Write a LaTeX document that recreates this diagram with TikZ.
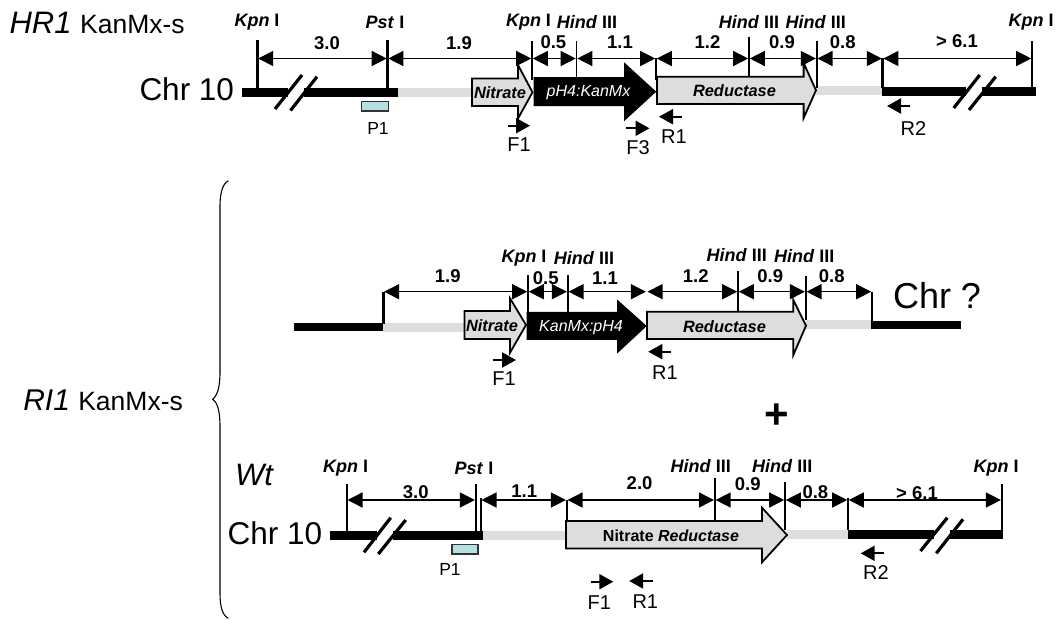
\documentclass[tikz,border=0pt]{standalone}
\usepackage{fontspec}
\setmainfont{Liberation Sans}
\usetikzlibrary{arrows.meta}
\definecolor{geneGrey}{HTML}{DDDDDD}
\definecolor{probeBlue}{HTML}{B7DEE0}
\newcommand{\fs}[1]{\fontsize{#1}{#1}\selectfont}
\tikzset{
  x=1pt,y=-1pt,
  txt/.style={inner sep=0pt,outer sep=0pt,anchor=center},
  site/.style={txt,font=\fs{18}\bfseries},
  size/.style={txt,font=\fs{18.5}\bfseries},
  primerlab/.style={txt,font=\fs{20}},
  probelab/.style={txt,font=\fs{17.5}},
  genelab/.style={txt,font=\fs{16.4}\bfseries\itshape},
  title/.style={txt,anchor=base west},
  chr/.style={txt,anchor=west,font=\fs{31.5}},
  dim/.style={line width=1.4pt,{Triangle[length=15pt,width=15pt]}-{Triangle[length=15pt,width=15pt]},shorten <=0.8pt,shorten >=0.8pt},
  tickline/.style={line width=1.8pt},
  heavytick/.style={line width=2.4pt},
  primer/.style={line width=2pt,-{Triangle[length=14pt,width=15pt]}},
  chrom/.style={line width=9pt},
  spacer/.style={line width=9pt,geneGrey},
  slash/.style={line width=3.2pt},
  gene/.style={draw=black,line width=1.8pt,fill=geneGrey,miter limit=10},
  darkgene/.style={draw=black,line width=1pt,fill=black},
  probe/.style={draw=black!80,line width=1.8pt,fill=probeBlue},
}
% name, x, top, dim y, bottom
\newcommand{\tick}[5]{\coordinate (#1-t) at (#2,#3);\coordinate (#1) at (#2,#4);\coordinate (#1-b) at (#2,#5);\draw[tickline] (#1-t) -- (#1-b);}
\newcommand{\htick}[5]{\coordinate (#1-t) at (#2,#3);\coordinate (#1) at (#2,#4);\coordinate (#1-b) at (#2,#5);\draw[heavytick] (#1-t) -- (#1-b);}
% style, left, bodytop, bodybot, base, headtop, headbot, tip
\newcommand{\genearrow}[8]{\draw[#1] (#2,#3) -- (#5,#3) -- (#5,#6) -- (#8) -- (#5,#7) -- (#5,#4) -- (#2,#4) -- cycle;}
\newcommand{\Kpn}{\textit{Kpn} I}
\newcommand{\Pst}{\textit{Pst} I}
\newcommand{\Hind}{\textit{Hind} III}
\begin{document}
\begin{tikzpicture}
\useasboundingbox (0,0) rectangle (1058,619);

% ---------- Row 1 ----------
\node[title] (hrt) at (9.5,33.5) {\fs{31}\textit{HR1} \fs{26.5}KanMx-s};
\node[chr] (chrA) at (139.5,89.5) {Chr 10};
\draw[chrom] (242,92.3) -- (288,92.3);
\draw[chrom] (304,92.3) -- (398,92.3);
\draw[spacer] (398,92.3) -- (472,92.3);
\draw[spacer] (816,90.5) -- (883,90.5);
\draw[chrom] (881.8,91) -- (966,91);
\draw[chrom] (982,91) -- (1035.6,91);
\draw[slash] (275,109) -- (302,75);
\draw[slash] (290.5,110.5) -- (317,76.7);
\draw[slash] (953.7,108) -- (979.7,75);
\draw[slash] (969,110) -- (995.7,76.7);
\draw[probe] (361.5,101.5) rectangle (388.5,110.7);
\coordinate (tipA1) at (532.5,92.3);
\coordinate (tipA2) at (655.5,91.7);
\coordinate (tipA3) at (816,90.3);
\genearrow{gene}{472}{78.5}{106}{518}{65}{118.5}{tipA1}
\genearrow{darkgene}{534}{77.5}{105.5}{624.6}{63.5}{120}{tipA2}
\genearrow{gene}{657}{76.7}{104}{803.6}{63}{118}{tipA3}
\htick{a1}{257.4}{40}{58.5}{90}
\htick{a2}{387.5}{40}{58.5}{89}
\tick{a3}{532}{41}{58.5}{80}
\tick{a4}{576.5}{41}{58.5}{78}
\tick{a5}{656}{58}{58.5}{80}
\tick{a6}{749}{36.7}{58.5}{76}
\tick{a7}{816.7}{41}{58.5}{88}
\htick{a8}{882.6}{58}{58.5}{88}
\htick{a9}{1032}{41}{58.5}{88}
\draw[dim] (a1) -- (a2);
\draw[dim] (a2) -- (a3);
\draw[dim] (a3) -- (a4);
\draw[dim] (a4) -- (a5);
\draw[dim] (a5) -- (a6);
\draw[dim] (a6) -- (a7);
\draw[dim] (a7) -- (a8);
\draw[dim] (a8) -- (a9);
\node[site] (sa1) at (257,22) {\Kpn};
\node[site] (sa2) at (385,22) {\Pst};
\node[site] (sa3) at (528.5,22) {\Kpn};
\node[site] (sa4) at (587,22) {\Hind};
\node[site] (sa5) at (749,22) {\Hind};
\node[site] (sa6) at (815.7,22) {\Hind};
\node[site] (sa7) at (1031,22) {\Kpn};
\node[size] (da1) at (327,43) {3.0};
\node[size] (da2) at (459,43) {1.9};
\node[size] (da3) at (553.4,42) {0.5};
\node[size] (da4) at (620,42) {1.1};
\node[size] (da5) at (707.5,42) {1.2};
\node[size] (da6) at (782,42) {0.9};
\node[size] (da7) at (842.7,42) {0.8};
\node[size] (da8) at (957,41) {> 6.1};
\node[genelab] (ga1) at (500,93) {Nitrate};
\node[txt,font=\fs{16}\itshape,text=white] (ga2) at (588.5,93) {pH4:KanMx};
\node[genelab] (ga3) at (734.5,90.5) {Reductase};
\node[probelab] (pa) at (378,128) {P1};
\coordinate (fa1s) at (508,125.7); \coordinate (fa1e) at (530,125.7);
\coordinate (fa3s) at (626,128.3); \coordinate (fa3e) at (649.5,128.3);
\coordinate (ra1s) at (682,116.7); \coordinate (ra1e) at (659,116.7);
\coordinate (ra2s) at (910,106); \coordinate (ra2e) at (887,106);
\draw[primer] (fa1s) -- (fa1e);
\draw[primer] (fa3s) -- (fa3e);
\draw[primer] (ra1s) -- (ra1e);
\draw[primer] (ra2s) -- (ra2e);
\node[primerlab] (la1) at (519,145) {F1};
\node[primerlab] (la3) at (638,147.7) {F3};
\node[primerlab] (la4) at (674,136.7) {R1};
\node[primerlab] (la5) at (913.5,129) {R2};

% ---------- Brace and side labels ----------
\coordinate (b1) at (228.3,180.7);
\coordinate (b2) at (220,206);
\coordinate (b3) at (220,372);
\coordinate (b4) at (212.7,399.3);
\coordinate (b5) at (220,426.7);
\coordinate (b6) at (220,593);
\coordinate (b7) at (228.3,618.3);
\draw[line width=1.1pt] (b1) .. controls (222,184) and (220,195) .. (b2) -- (b3)
  .. controls (220,388) and (217,396) .. (b4)
  .. controls (217,402) and (220,410) .. (b5) -- (b6)
  .. controls (220,606) and (222,615) .. (b7);
\node[title] (rit) at (23.3,410.7) {\fs{30}\textit{RI1} \fs{26.5}KanMx-s};
\node[txt,font=\fs{42}\bfseries] (plus) at (777,416.5) {+};

% ---------- Row 2 ----------
\draw[line width=8pt] (294,327) -- (384,327);
\draw[spacer] (383,327) -- (465,327);
\draw[spacer] (806,324.3) -- (873,324.3);
\draw[line width=8pt] (871.3,325.3) -- (961,325.3);
\coordinate (tipB1) at (526,325);
\coordinate (tipB2) at (646,326);
\coordinate (tipB3) at (806,325.7);
\genearrow{gene}{464.5}{311}{339}{510}{298.3}{352.7}{tipB1}
\genearrow{darkgene}{527}{312.3}{339.3}{617.7}{300.7}{352.3}{tipB2}
\genearrow{gene}{647}{311.7}{339}{793.3}{300}{355}{tipB3}
\htick{c1}{383.3}{291.7}{291.7}{324}
\tick{c2}{528}{275}{291.7}{312}
\tick{c3}{567.7}{275}{291.7}{312}
\coordinate (c4) at (646.7,291.7);
\tick{c5}{738}{270.7}{291.7}{311.7}
\tick{c6}{805.7}{275.7}{291.7}{320}
\htick{c7}{872}{291.7}{291.7}{322}
\draw[dim] (c1) -- (c2);
\draw[dim] (c2) -- (c3);
\draw[dim] (c3) -- (c4);
\draw[dim] (c4) -- (c5);
\draw[dim] (c5) -- (c6);
\draw[dim] (c6) -- (c7);
\node[site] (sb1) at (524,258.3) {\Kpn};
\node[site] (sb2) at (584,258.3) {\Hind};
\node[site] (sb3) at (736.7,255) {\Hind};
\node[site] (sb4) at (804.3,255.7) {\Hind};
\node[size] (db1) at (447.7,275.7) {1.9};
\node[size] (db2) at (545.7,278) {0.5};
\node[size] (db3) at (605,278.3) {1.1};
\node[size] (db4) at (695.7,275.7) {1.2};
\node[size] (db5) at (770.3,275.7) {0.9};
\node[size] (db6) at (831.7,275.7) {0.8};
\node[genelab] (gb1) at (492,326) {Nitrate};
\node[txt,font=\fs{16}\itshape,text=white] (gb2) at (581,327.7) {KanMx:pH4};
\node[genelab] (gb3) at (724.5,326.5) {Reductase};
\node[txt,anchor=west,font=\fs{36}] (chrB) at (893,295.7) {Chr ?};
\coordinate (fb1s) at (492.7,360); \coordinate (fb1e) at (516,360);
\coordinate (rb1s) at (670.7,351.7); \coordinate (rb1e) at (648.3,351.7);
\draw[primer] (fb1s) -- (fb1e);
\draw[primer] (rb1s) -- (rb1e);
\node[primerlab] (lb1) at (504,378.3) {F1};
\node[primerlab] (lb2) at (665,372.5) {R1};

% ---------- Row 3 ----------
\node[txt,anchor=west,font=\fs{31}\itshape] (wt) at (235,475) {Wt};
\node[chr] (chrC) at (227.7,533.3) {Chr 10};
\draw[chrom] (330,535.7) -- (377,535.7);
\draw[chrom] (393,535.7) -- (483,535.7);
\draw[spacer] (483,535.7) -- (566,535.7);
\draw[spacer] (787,534.3) -- (849,534.3);
\draw[chrom] (848,534.3) -- (934,534.3);
\draw[chrom] (950,534.3) -- (1002.7,534.3);
\draw[slash] (364,552.3) -- (390.7,517.7);
\draw[slash] (378.3,554) -- (405.7,520);
\draw[slash] (920.5,551) -- (947.3,517.7);
\draw[slash] (936.3,553.3) -- (963,519.3);
\draw[probe] (452,544.5) rectangle (478,554);
\coordinate (tipC) at (787,535);
\genearrow{gene}{566}{521}{548.5}{762}{507.7}{562.3}{tipC}
\tick{e1}{346.7}{484.3}{500}{532}
\tick{e2}{475.7}{484.3}{500}{531}
\htick{e3}{480.7}{498}{500}{531}
\tick{e4}{566.7}{499.5}{500}{521}
\tick{e5}{714.8}{477.7}{500}{521}
\tick{e6}{785}{481.7}{500}{530}
\htick{e7}{848}{498}{500}{530}
\htick{e8}{1001.7}{484.3}{500}{530}
\draw[dim] (e1) -- (e2);
\draw[dim] (e3) -- (e4);
\draw[dim] (e4) -- (e5);
\draw[dim] (e5) -- (e6);
\draw[dim] (e6) -- (e7);
\draw[dim] (e7) -- (e8);
\node[site] (sc1) at (345.7,468.3) {\Kpn};
\node[site] (sc2) at (474,468.3) {\Pst};
\node[site] (sc3) at (700.7,466) {\Hind};
\node[site] (sc4) at (782.2,466) {\Hind};
\node[site] (sc5) at (996,468.3) {\Kpn};
\node[size] (dc1) at (415.7,491.7) {3.0};
\node[size] (dc2) at (524.3,491) {1.1};
\node[size] (dc3) at (639.6,483.3) {2.0};
\node[size] (dc4) at (747.7,484) {0.9};
\node[size] (dc5) at (815.4,492.3) {0.8};
\node[size] (dc6) at (917,492.7) {> 6.1};
\node[txt,font=\fs{16}\bfseries] (gc1) at (671,535.7) {Nitrate \textit{Reductase}};
\node[probelab] (pc) at (450,569.3) {P1};
\coordinate (fc1s) at (590.7,581.7); \coordinate (fc1e) at (613.3,581.7);
\coordinate (rc1s) at (652.7,581); \coordinate (rc1e) at (629.2,581);
\coordinate (rc2s) at (884,553.3); \coordinate (rc2e) at (860.7,553.3);
\draw[primer] (fc1s) -- (fc1e);
\draw[primer] (rc1s) -- (rc1e);
\draw[primer] (rc2s) -- (rc2e);
\node[primerlab] (lc1) at (599.3,602.3) {F1};
\node[primerlab] (lc2) at (645.3,601.7) {R1};
\node[primerlab] (lc3) at (876,572.7) {R2};
\end{tikzpicture}
\end{document}
